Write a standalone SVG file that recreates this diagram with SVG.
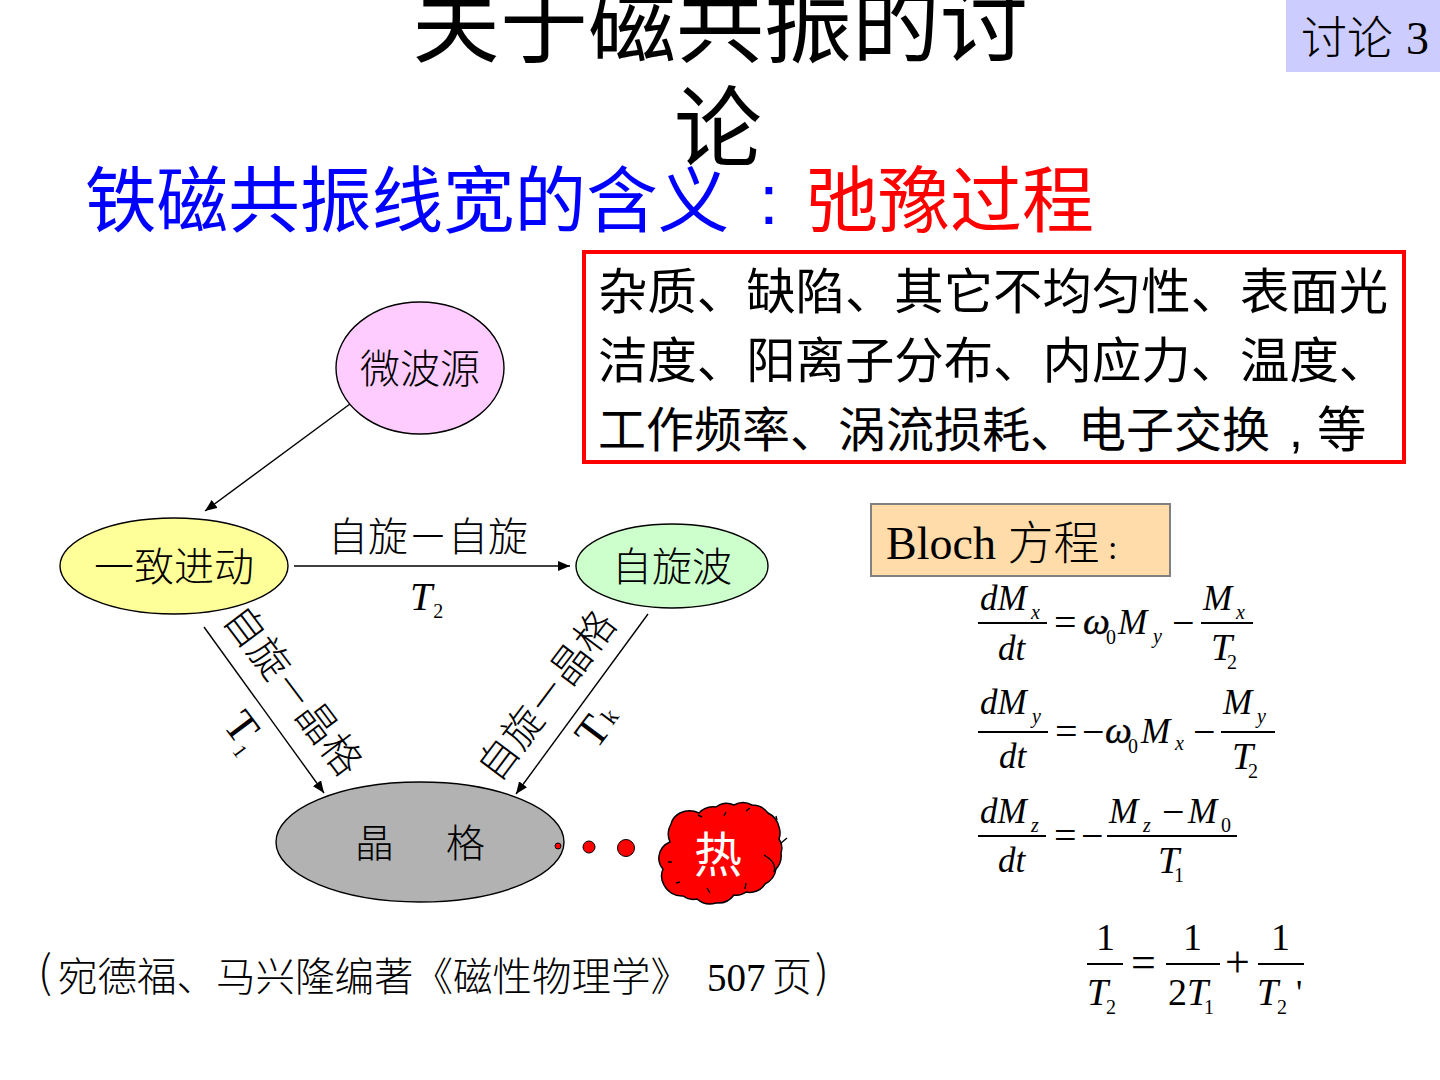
<svg xmlns="http://www.w3.org/2000/svg" width="1440" height="1080" viewBox="0 0 1440 1080">
<style>
text{font-family:"Liberation Serif","Noto Sans CJK SC",serif;fill:#000}
.cjk{font-family:"Noto Sans CJK SC",sans-serif}
.l{font-family:"Noto Sans CJK SC",sans-serif;font-weight:300}
.i{font-style:italic}
.n{stroke:#000;stroke-width:1.4}
.c{stroke:#000;stroke-width:1.4;fill:none;marker-end:url(#a)}
.f{stroke:#000;stroke-width:2;fill:none}
.m{font-size:35px}
.t{font-size:38px}
.s{font-size:20px}
.w{font-size:38px;font-style:italic;stroke:#000;stroke-width:.4}
.o{font-size:40px}
</style>
<defs><marker id="a" markerUnits="userSpaceOnUse" markerWidth="13" markerHeight="10" refX="12" refY="5" orient="auto"><path d="M0 0L12 5L0 10z" fill="#000"/></marker></defs>
<rect width="1440" height="1080" fill="#fff"/>
<g id="title">
<text class="cjk" x="720" y="55" font-size="88" text-anchor="middle">关于磁共振的讨</text>
<text class="cjk" x="718" y="159" font-size="88" text-anchor="middle">论</text>
</g>
<g id="tag"><rect x="1286" y="0" width="154" height="72" fill="#ccf"/>
<text x="1301" y="54" font-size="46"><tspan class="l">讨论</tspan><tspan dx="13">3</tspan></text></g>
<g id="subtitle">
<text class="cjk" x="85" y="226" font-size="71.6" style="fill:#00f">铁磁共振线宽的含义</text>
<text x="759" y="224" font-size="71" style="font-family:'Liberation Sans';fill:#00f">:</text>
<text class="cjk" x="806" y="226" font-size="72" style="fill:#f00">弛豫过程</text>
</g>
<g id="note"><rect x="584" y="252" width="820" height="210" fill="#fff" stroke="#f00" stroke-width="4"/>
<text class="cjk" x="598" y="309" font-size="49.4">杂质、缺陷、其它不均匀性、表面光</text>
<text class="cjk" x="598" y="378" font-size="49.4">洁度、阳离子分布、内应力、温度、</text>
<text class="cjk" x="598" y="447" font-size="48">工作频率、涡流损耗、电子交换</text>
<text x="1289" y="447" font-size="50" style="font-family:'Liberation Sans'">,</text>
<text class="cjk" x="1317" y="447" font-size="49.4">等</text></g>
<g id="connectors">
<path class="c" d="M350 404L205 511"/>
<path class="c" d="M294 566H570"/>
<path class="c" d="M204 627L324 793"/>
<path class="c" d="M648 614L516 794"/>
</g>
<g id="microwave"><ellipse class="n" cx="420" cy="368" rx="84" ry="66" fill="#fcf"/><text class="l" x="420" y="383" font-size="40" text-anchor="middle">微波源</text></g>
<g id="precession"><ellipse class="n" cx="174" cy="566" rx="114" ry="48" fill="#ff9"/><text class="l" x="174" y="581" font-size="40" text-anchor="middle">一致进动</text></g>
<g id="spinwave"><ellipse class="n" cx="672" cy="566" rx="96" ry="42" fill="#cfc"/><text class="l" x="672" y="581" font-size="40" text-anchor="middle">自旋波</text></g>
<g id="lattice"><ellipse class="n" cx="420" cy="842" rx="144" ry="60" fill="#b2b2b2"/><text class="l" x="355" y="857" font-size="39">晶</text><text class="l" x="446" y="857" font-size="39">格</text></g>
<g id="labels">
<text class="l" x="428" y="551" font-size="40" text-anchor="middle">自旋－自旋</text>
<text class="i" x="410" y="610" font-size="40">T<tspan class="s" font-style="normal" dx="1" dy="8">2</tspan></text>
<text class="l" font-size="40" text-anchor="middle" transform="translate(282 699) rotate(53)">自旋－晶格</text>
<text font-size="44" transform="translate(222 725) rotate(53)">T<tspan font-size="20" dy="8">1</tspan></text>
<text class="l" font-size="40" text-anchor="middle" transform="translate(558 704) rotate(-53)">自旋－晶格</text>
<text font-size="44" transform="translate(596 751) rotate(-53)">T<tspan font-size="24" dx="3" dy="-2">k</tspan></text>
</g>
<g id="heat">
<circle cx="558" cy="846" r="3" fill="#f00" stroke="#000"/>
<circle cx="589" cy="847" r="6" fill="#f00" stroke="#000"/>
<circle cx="626" cy="848" r="8.5" fill="#f00" stroke="#000"/>
<path d="M670 842A20 20 0 0 1 671 824A17 17 0 0 1 680 813A22 22 0 0 1 699 813A19 19 0 0 1 716 807A18 18 0 0 1 734 805A18 18 0 0 1 752 805A20 20 0 0 1 768 813A20 20 0 0 1 779 827A18 18 0 0 1 779 839A16 16 0 0 1 781 853A20 20 0 0 1 776 869A20 20 0 0 1 765 884A18 18 0 0 1 746 892A16 16 0 0 1 734 895A20 20 0 0 1 716 903A20 20 0 0 1 697 899A18 18 0 0 1 683 896A20 20 0 0 1 664 885A18 18 0 0 1 663 869A16 16 0 0 1 659 856A18 18 0 0 1 670 842Z" fill="#f00" stroke="#000" stroke-width="1.5"/>
<path class="n" fill="none" d="M776 816L777 820M781 843L787 838M764 855C773 860 776 866 774 872M698 815L702 817M726 812L724 816M746 811L750 808M668 862L672 862M676 883L680 882M707 888L710 893M746 883L745 889"/>
<text class="cjk" x="718" y="872" font-size="48" text-anchor="middle" style="fill:#fff">热</text>
</g>
<g id="bloch"><rect x="871" y="504" width="299" height="72" fill="#ffdcaa" stroke="#808080" stroke-width="2"/>
<text x="886" y="559" font-size="46">Bloch <tspan class="l">方程</tspan></text><text x="1108" y="559" font-size="34">:</text></g>
<g id="eq1">
<path class="f" stroke-width="1.4" d="M978 623H1047M1201 623H1253"/>
<text class="i m" x="980" y="610">dM</text><text class="i s" x="1031" y="619">x</text><text class="i m" x="998" y="660">dt</text>
<text class="o" x="1054" y="636">=</text><text class="w" x="1083" y="634">ω</text><text class="s" x="1106" y="644">0</text><text class="i m" x="1118" y="634">M</text><text class="i s" x="1153" y="643">y</text><text class="o" x="1172" y="636">−</text>
<text class="i m" x="1203" y="610">M</text><text class="i s" x="1236" y="619">x</text><text class="i t" x="1211" y="660">T</text><text class="s" x="1227" y="669">2</text>
</g>
<g id="eq2">
<path class="f" d="M978 732H1048M1221 732H1275"/>
<text class="i m" x="980" y="714">dM</text><text class="i s" x="1032" y="723">y</text><text class="i m" x="999" y="768">dt</text>
<text class="o" x="1055" y="745">=</text><text class="o" x="1082" y="745">−</text><text class="w" x="1105" y="743">ω</text><text class="s" x="1128" y="753">0</text><text class="i m" x="1141" y="743">M</text><text class="i s" x="1175" y="750">x</text><text class="o" x="1193" y="745">−</text>
<text class="i m" x="1223" y="714">M</text><text class="i s" x="1257" y="723">y</text><text class="i t" x="1232" y="769">T</text><text class="s" x="1248" y="778">2</text>
</g>
<g id="eq3">
<path class="f" d="M978 836H1046M1107 836H1237"/>
<text class="i m" x="980" y="823">dM</text><text class="i s" x="1031" y="832">z</text><text class="i m" x="998" y="872">dt</text>
<text class="o" x="1054" y="849">=</text><text class="o" x="1081" y="849">−</text>
<text class="i m" x="1109" y="823">M</text><text class="i s" x="1143" y="832">z</text><text class="o" x="1162" y="825">−</text><text class="i m" x="1188" y="823">M</text><text class="s" x="1221" y="832">0</text>
<text class="i t" x="1158" y="873">T</text><text class="s" x="1174" y="882">1</text>
</g>
<g id="eq4">
<path class="f" d="M1087 964H1123M1166 964H1220M1258 964H1304"/>
<text class="t" x="1096" y="950">1</text><text class="t" x="1183" y="950">1</text><text class="t" x="1271" y="950">1</text>
<text x="1131" y="977" font-size="44">=</text><text x="1225" y="977" font-size="44">+</text>
<text class="i t" x="1087" y="1005">T</text><text class="s" x="1106" y="1014">2</text>
<text class="t" x="1168" y="1005">2<tspan class="i">T</tspan></text><text class="s" x="1204" y="1014">1</text>
<text class="i t" x="1257" y="1005">T</text><text class="s" x="1277" y="1014">2</text><text class="m" x="1296" y="1005">'</text>
</g>
<g id="citation">
<text class="l" x="38" y="988" font-size="44">(</text>
<text class="l" x="58" y="991" font-size="39.5">宛德福、马兴隆编著《磁性物理学》</text>
<text x="707" y="991" font-size="39">507</text>
<text class="l" x="772" y="991" font-size="40">页</text>
<text class="l" x="815" y="988" font-size="44">)</text>
</g>
</svg>
